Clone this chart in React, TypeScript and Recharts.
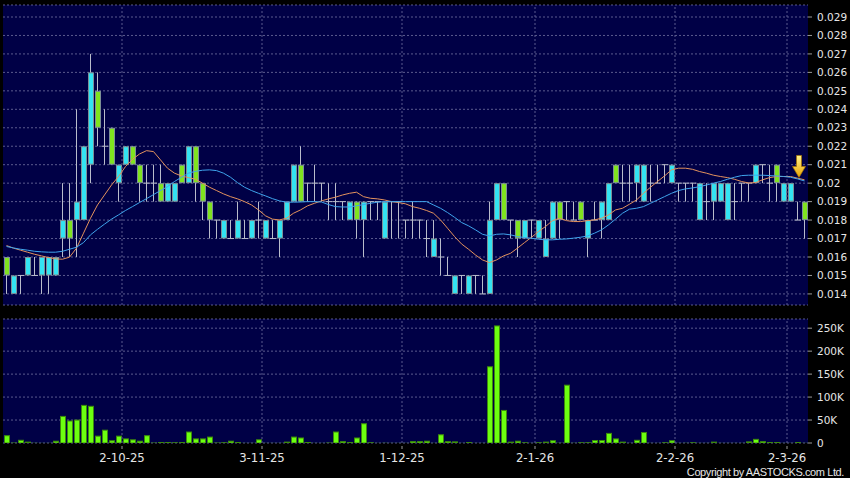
import React from "react";
import {
  ComposedChart,
  BarChart,
  Bar,
  Line,
  XAxis,
  YAxis,
  CartesianGrid,
  ReferenceLine,
  ReferenceDot,
} from "recharts";

// daily prices (HKD), oldest first
const opens = [
  0.016, 0.014, 0.015, 0.015, 0.015, 0.015, 0.015, 0.015, 0.017, 0.018,
  0.018, 0.018, 0.021, 0.025, 0.022, 0.023, 0.02, 0.021, 0.022, 0.021,
  0.02, 0.02, 0.02, 0.019, 0.019, 0.021, 0.02, 0.022, 0.02, 0.019,
  0.018, 0.017, 0.017, 0.017, 0.017, 0.017, 0.018, 0.017, 0.017, 0.017,
  0.018, 0.019, 0.021, 0.02, 0.02, 0.02, 0.019, 0.019, 0.019, 0.018,
  0.019, 0.018, 0.019, 0.019, 0.017, 0.019, 0.019, 0.018, 0.018, 0.018,
  0.017, 0.016, 0.016, 0.015, 0.014, 0.015, 0.014, 0.015, 0.014, 0.014,
  0.018, 0.02, 0.018, 0.018, 0.017, 0.018, 0.017, 0.016, 0.017, 0.019,
  0.019, 0.018, 0.019, 0.017, 0.018, 0.018, 0.018, 0.021, 0.02, 0.02,
  0.02, 0.019, 0.02, 0.02, 0.021, 0.02, 0.02, 0.02, 0.02, 0.018,
  0.019, 0.019, 0.019, 0.018, 0.019, 0.02, 0.02, 0.02, 0.021, 0.02,
  0.021, 0.019, 0.019, 0.018, 0.019,
];
const highs = [
  0.016, 0.015, 0.015, 0.016, 0.016, 0.016, 0.016, 0.016, 0.02, 0.02,
  0.024, 0.022, 0.027, 0.026, 0.024, 0.023, 0.021, 0.022, 0.022, 0.021,
  0.021, 0.021, 0.021, 0.02, 0.02, 0.021, 0.022, 0.022, 0.02, 0.019,
  0.018, 0.018, 0.018, 0.019, 0.018, 0.018, 0.019, 0.018, 0.018, 0.018,
  0.019, 0.021, 0.022, 0.02, 0.021, 0.02, 0.02, 0.02, 0.019, 0.019,
  0.019, 0.019, 0.019, 0.019, 0.019, 0.019, 0.019, 0.018, 0.019, 0.018,
  0.018, 0.018, 0.017, 0.016, 0.015, 0.015, 0.015, 0.015, 0.015, 0.019,
  0.02, 0.02, 0.018, 0.018, 0.018, 0.018, 0.018, 0.018, 0.019, 0.019,
  0.019, 0.019, 0.019, 0.018, 0.019, 0.019, 0.02, 0.021, 0.021, 0.021,
  0.021, 0.021, 0.021, 0.021, 0.021, 0.021, 0.02, 0.02, 0.02, 0.02,
  0.02, 0.02, 0.02, 0.02, 0.02, 0.02, 0.02, 0.021, 0.021, 0.021,
  0.021, 0.02, 0.02, 0.019, 0.019,
];
const lows = [
  0.014, 0.014, 0.014, 0.015, 0.015, 0.014, 0.014, 0.015, 0.016, 0.016,
  0.016, 0.018, 0.02, 0.022, 0.021, 0.021, 0.019, 0.021, 0.021, 0.019,
  0.019, 0.019, 0.019, 0.019, 0.019, 0.02, 0.02, 0.019, 0.018, 0.017,
  0.017, 0.017, 0.017, 0.017, 0.017, 0.017, 0.017, 0.017, 0.017, 0.016,
  0.018, 0.019, 0.019, 0.019, 0.019, 0.019, 0.018, 0.018, 0.018, 0.018,
  0.017, 0.016, 0.018, 0.018, 0.017, 0.017, 0.017, 0.017, 0.017, 0.017,
  0.016, 0.016, 0.015, 0.015, 0.014, 0.014, 0.014, 0.014, 0.014, 0.014,
  0.018, 0.018, 0.017, 0.016, 0.017, 0.017, 0.017, 0.016, 0.017, 0.017,
  0.018, 0.018, 0.018, 0.016, 0.018, 0.017, 0.018, 0.02, 0.019, 0.019,
  0.019, 0.019, 0.019, 0.02, 0.02, 0.02, 0.019, 0.019, 0.019, 0.018,
  0.018, 0.018, 0.019, 0.018, 0.018, 0.019, 0.019, 0.02, 0.02, 0.019,
  0.019, 0.019, 0.019, 0.018, 0.017,
];
const closes = [
  0.015, 0.015, 0.015, 0.016, 0.015, 0.016, 0.016, 0.016, 0.018, 0.017,
  0.019, 0.022, 0.026, 0.023, 0.022, 0.021, 0.021, 0.022, 0.021, 0.02,
  0.02, 0.02, 0.019, 0.02, 0.02, 0.02, 0.022, 0.02, 0.019, 0.018,
  0.018, 0.018, 0.017, 0.018, 0.017, 0.018, 0.018, 0.018, 0.017, 0.018,
  0.019, 0.021, 0.019, 0.02, 0.02, 0.02, 0.019, 0.019, 0.019, 0.019,
  0.018, 0.019, 0.019, 0.019, 0.019, 0.019, 0.019, 0.018, 0.018, 0.018,
  0.017, 0.017, 0.016, 0.015, 0.015, 0.015, 0.015, 0.015, 0.014, 0.018,
  0.02, 0.018, 0.018, 0.017, 0.018, 0.018, 0.018, 0.017, 0.019, 0.018,
  0.019, 0.018, 0.018, 0.018, 0.018, 0.019, 0.02, 0.02, 0.02, 0.02,
  0.021, 0.021, 0.02, 0.02, 0.021, 0.021, 0.02, 0.02, 0.02, 0.02,
  0.019, 0.02, 0.02, 0.02, 0.019, 0.02, 0.02, 0.021, 0.021, 0.02,
  0.02, 0.02, 0.02, 0.018, 0.018,
];

// moving averages
const ma10 = [
  0.01662, 0.01648, 0.01637, 0.01626, 0.01615, 0.01606, 0.01597, 0.0159, 0.01588, 0.01599,
  0.01648, 0.01729, 0.0181, 0.01882, 0.01936, 0.0199, 0.02036, 0.0209, 0.02129, 0.02158,
  0.02176, 0.02171, 0.02126, 0.02081, 0.02054, 0.02039, 0.0203, 0.02021, 0.02, 0.01978,
  0.0196, 0.01942, 0.01927, 0.01915, 0.019, 0.01882, 0.01855, 0.01823, 0.01805, 0.01801,
  0.0181, 0.01837, 0.01855, 0.01877, 0.01891, 0.01904, 0.01915, 0.01924, 0.01936, 0.01945,
  0.01951, 0.01927, 0.01918, 0.01915, 0.01909, 0.019, 0.01895, 0.01888, 0.01873, 0.01864,
  0.01852, 0.01837, 0.01801, 0.01756, 0.01711, 0.01671, 0.01642, 0.01611, 0.01584, 0.0157,
  0.01584, 0.01606, 0.0162, 0.01648, 0.01678, 0.01707, 0.01738, 0.01765, 0.01797, 0.0181,
  0.01797, 0.01792, 0.01792, 0.01797, 0.01801, 0.0181, 0.01828, 0.01855, 0.01864, 0.01886,
  0.01909, 0.01945, 0.01978, 0.02009, 0.02039, 0.02072, 0.02081, 0.02081, 0.02075, 0.02063,
  0.02054, 0.02043, 0.02036, 0.0203, 0.02021, 0.02009, 0.02001, 0.02003, 0.02018, 0.0203,
  0.02036, 0.02036, 0.02036, 0.02027, 0.02018,
];
const ma20 = [
  0.01657, 0.01649, 0.01642, 0.01637, 0.01631, 0.01628, 0.01626, 0.01626, 0.01631, 0.01642,
  0.01653, 0.01678, 0.0172, 0.0175, 0.01778, 0.01805, 0.01828, 0.01852, 0.01873, 0.01895,
  0.01916, 0.01938, 0.0196, 0.01981, 0.02009, 0.02032, 0.02054, 0.02064, 0.0207, 0.02072,
  0.02068, 0.02054, 0.02032, 0.02003, 0.01978, 0.0196, 0.01945, 0.01931, 0.01916, 0.01904,
  0.01897, 0.01897, 0.01898, 0.019, 0.019, 0.01898, 0.01884, 0.01873, 0.01871, 0.01871,
  0.01877, 0.01884, 0.01891, 0.01897, 0.019, 0.019, 0.019, 0.019, 0.019, 0.019,
  0.019, 0.01882, 0.01864, 0.01841, 0.01815, 0.01787, 0.01769, 0.01747, 0.01723, 0.01714,
  0.01723, 0.01725, 0.0172, 0.01711, 0.01705, 0.01702, 0.01696, 0.01693, 0.01693, 0.01696,
  0.01698, 0.01702, 0.01707, 0.01714, 0.01729, 0.01747, 0.01774, 0.01805, 0.01837, 0.01859,
  0.01864, 0.01873, 0.01891, 0.01909, 0.01927, 0.01945, 0.0196, 0.01969, 0.01974, 0.01981,
  0.0199, 0.02, 0.02009, 0.02021, 0.02032, 0.02041, 0.02043, 0.02043, 0.02043, 0.02041,
  0.02039, 0.02036, 0.02032, 0.02023, 0.02012,
];

// daily turnover (shares)
const volumes = [
  17000, 1000, 7000, 3000, 500, 300, 300, 5000, 59000, 49000,
  51000, 83000, 81000, 16000, 29000, 6000, 16000, 10000, 8000, 5000,
  17000, 1000, 2000, 2000, 1500, 2000, 25000, 10000, 10000, 14000,
  1000, 1500, 5000, 2000, 300, 300, 8000, 300, 300, 300,
  3000, 14000, 12000, 2000, 300, 300, 1000, 25000, 4000, 2000,
  12000, 43000, 1500, 300, 500, 300, 300, 300, 4000, 4000,
  5000, 300, 19000, 4000, 3500, 300, 2000, 300, 300, 167000,
  256000, 72000, 3000, 5000, 1500, 300, 1500, 3000, 6000, 500,
  127000, 500, 1500, 1500, 6500, 6500, 22000, 10000, 3000, 300,
  7000, 24000, 300, 300, 1500, 6000, 300, 500, 1500, 300,
  300, 3000, 300, 300, 300, 300, 3500, 9000, 4000, 2000,
  2000, 300, 300, 2000, 300,
];

// first trading day of each month shown on the axis
const monthStarts = [17, 37, 57, 76, 96, 112];
const monthLabels = ["2-10-25", "3-11-25", "1-12-25", "2-1-26", "2-2-26", "2-3-26"];

const priceTicks = [
  0.014, 0.015, 0.016, 0.017, 0.018, 0.019, 0.02, 0.021, 0.022, 0.023,
  0.024, 0.025, 0.026, 0.027, 0.028, 0.029,
];
const volumeTicks = [0, 50000, 100000, 150000, 200000, 250000];

const arrowIndex = 113;
const arrowPrice = 0.0215;

const rows = opens.map((o, i) => ({
  i,
  o,
  h: highs[i],
  l: lows[i],
  c: closes[i],
  ma10: ma10[i],
  ma20: ma20[i],
  v: volumes[i],
}));

const BG = "#000046";
const GRID = "#5a5a8e";
const TEXT = "#e6e6e6";
const UP = "#33e3f2";
const DOWN = "#80e31f";
const WICK = "#b9bccb";

const Candle = (props: any) => {
  const { x, y, width, height, payload } = props;
  const { o, h, l, c } = payload;
  const top = Math.min(y, y + height);
  const bottom = Math.max(y, y + height);
  const span = h - l;
  const toY = (v: number) => (span === 0 ? top : top + ((h - v) / span) * (bottom - top));
  const cx = x + width / 2;
  if (o === c) {
    return (
      <g>
        <line x1={cx} x2={cx} y1={top} y2={bottom} stroke={WICK} strokeWidth={1} />
        <line x1={cx - 3} x2={cx + 3.5} y1={toY(o)} y2={toY(o)} stroke={WICK} strokeWidth={1} />
      </g>
    );
  }
  const bt = toY(Math.max(o, c));
  const bb = toY(Math.min(o, c));
  return (
    <g>
      <line x1={cx} x2={cx} y1={top} y2={bottom} stroke={WICK} strokeWidth={1} />
      <rect
        x={cx - 2}
        y={bt + 0.5}
        width={5}
        height={Math.max(bb - bt - 1, 1)}
        fill={c > o ? UP : DOWN}
        stroke="#7c8f96"
        strokeWidth={1}
      />
    </g>
  );
};

const VolBar = (props: any) => {
  const { x, y, width, height } = props;
  const cx = x + width / 2;
  const h = Math.max(height, 0);
  return (
    <rect
      x={cx - 2}
      y={y + 0.5}
      width={5}
      height={Math.max(h - 0.5, 0.5)}
      fill="#6cff10"
      stroke="#3d8a0c"
      strokeWidth={1}
    />
  );
};

const Arrow = (props: any) => {
  const { cx, cy } = props;
  const x = cx + 1.5;
  const y = cy;
  return (
    <g>
      <defs>
        <linearGradient id="arrowFill" x1="0" y1="0" x2="0" y2="1">
          <stop offset="0" stopColor="#fff38a" />
          <stop offset="1" stopColor="#e8a200" />
        </linearGradient>
      </defs>
      <path
        d={`M${x - 2.5},${y} L${x + 2.5},${y} L${x + 2.5},${y + 11} L${x + 6.5},${y + 11} L${x},${y + 22} L${x - 6.5},${y + 11} L${x - 2.5},${y + 11} Z`}
        fill="url(#arrowFill)"
        stroke="#a87400"
        strokeWidth={0.7}
      />
    </g>
  );
};

const DateTick = (props: any) => {
  const { x, y, payload } = props;
  const k = monthStarts.indexOf(payload.value);
  if (k < 0) return <g />;
  const tx = x - 3.5;
  return (
    <g>
      <line x1={tx} x2={tx} y1={y - 3} y2={y} stroke="#9a9a9a" />
      <text x={tx} y={y + 13} textAnchor="middle" fill={TEXT} fontSize={11.7} fontFamily="DejaVu Sans">
        {monthLabels[k]}
      </text>
    </g>
  );
};

const axisTick = { fill: TEXT, fontSize: 10.5, fontFamily: "DejaVu Sans" };

export default function App() {
  return (
    <div
      style={{
        position: "absolute",
        left: 0,
        top: 0,
        width: 850,
        height: 478,
        background: "#000",
        overflow: "hidden",
      }}
    >
      <div style={{ position: "absolute", left: 0, top: 0 }}>
        <ComposedChart
          width={850}
          height={310}
          data={rows}
          margin={{ top: 5, right: 0, bottom: 5, left: 3 }}
          barCategoryGap={0}
        >
          <CartesianGrid vertical={false} stroke={GRID} strokeDasharray="2 2" fill={BG} fillOpacity={1} />
          <XAxis dataKey="i" hide />
          <YAxis
            orientation="right"
            width={42}
            domain={[0.0134, 0.02965]}
            allowDataOverflow
            ticks={priceTicks}
            interval={0}
            tickFormatter={(v: number) => String(+v.toFixed(3))}
            tick={axisTick}
            tickSize={4}
            tickMargin={5}
            tickLine={{ stroke: "#9a9a9a" }}
            axisLine={false}
          />
          {monthStarts.map((m) => (
            <ReferenceLine key={m} x={m} position="start" stroke={GRID} strokeDasharray="2 2" />
          ))}
          <Bar dataKey={(d: any) => [d.l, d.h]} shape={<Candle />} isAnimationActive={false} />
          <Line type="linear" dataKey="ma10" stroke="#e3925e" strokeWidth={1} dot={false} isAnimationActive={false} />
          <Line type="linear" dataKey="ma20" stroke="#3fa4ec" strokeWidth={1} dot={false} isAnimationActive={false} />
          <ReferenceDot x={arrowIndex} y={arrowPrice} shape={<Arrow />} />
        </ComposedChart>
      </div>
      <div style={{ position: "absolute", left: 0, top: 310 }}>
        <BarChart
          width={850}
          height={168}
          data={rows}
          margin={{ top: 9, right: 0, bottom: 0, left: 3 }}
          barCategoryGap={0}
        >
          <CartesianGrid vertical={false} stroke={GRID} strokeDasharray="2 2" fill={BG} fillOpacity={1} />
          <XAxis
            dataKey="i"
            interval={0}
            height={35}
            tick={<DateTick />}
            tickLine={false}
            axisLine={false}
            tickSize={6}
            tickMargin={0}
          />
          <YAxis
            orientation="right"
            width={42}
            domain={[0, 270000]}
            allowDataOverflow
            ticks={volumeTicks}
            interval={0}
            tickFormatter={(v: number) => (v === 0 ? "0" : `${v / 1000}K`)}
            tick={axisTick}
            tickSize={4}
            tickMargin={5}
            tickLine={{ stroke: "#9a9a9a" }}
            axisLine={false}
          />
          {monthStarts.map((m) => (
            <ReferenceLine key={m} x={m} position="start" stroke={GRID} strokeDasharray="2 2" />
          ))}
          <Bar dataKey="v" shape={<VolBar />} isAnimationActive={false} />
        </BarChart>
      </div>
      <div
        style={{
          position: "absolute",
          right: 6,
          top: 467,
          fontFamily: "Liberation Sans",
          fontSize: 11,
          lineHeight: "11px",
          letterSpacing: -0.4,
          color: TEXT,
          whiteSpace: "nowrap",
        }}
      >
        Copyright by AASTOCKS.com Ltd.
      </div>
    </div>
  );
}
